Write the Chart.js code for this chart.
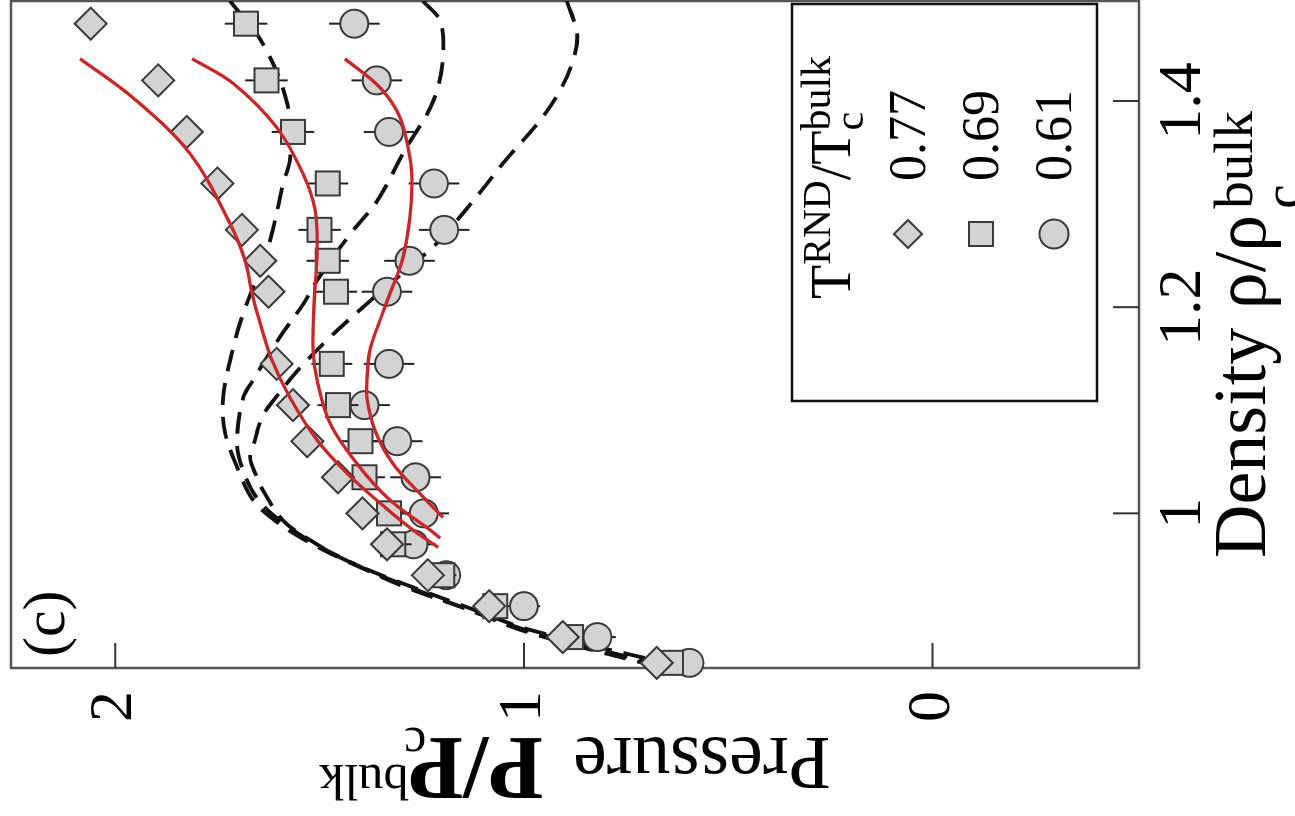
<!DOCTYPE html>
<html>
<head>
<meta charset="utf-8">
<script src="https://cdn.jsdelivr.net/npm/chart.js@4.4.1/dist/chart.umd.min.js"></script>
<style>
html,body{margin:0;padding:0;overflow:hidden;background:#fff;width:1295px;height:816px}
/* figure is typeset upright, then turned a quarter turn to the left */
#wrap{position:absolute;left:0;top:0;width:816px;height:1295px;transform-origin:0 0;transform:translate(0,816px) rotate(-90deg)}
</style>
</head>
<body>
<div id="wrap"><canvas id="cv" width="816" height="1295"></canvas></div>
<script>
// ── simulation points (density rows shared by all three runs) ──
const density=[1.475,1.42,1.37,1.32,1.275,1.245,1.215,1.145,1.105,1.07,1.035,1.0,0.97,0.94,0.91,0.88,0.855];
const temps=['0.77','0.69','0.61'];
const p077=[2.06,1.895,1.825,1.75,1.69,1.645,1.625,1.605,1.565,1.53,1.455,1.395,1.335,1.235,1.085,0.905,0.675];
const p069=[1.68,1.63,1.565,1.48,1.50,1.48,1.46,1.47,1.455,1.40,1.39,1.33,1.32,1.20,1.07,0.885,0.64];
const p061=[1.415,1.36,1.33,1.22,1.195,1.28,1.335,1.33,1.39,1.31,1.265,1.245,1.27,1.19,1.0,0.82,0.595];
const err077=[0.04,0.04,0.04,0.04,0.04,0.04,0.04,0.04,0.04,0.04,0.04,0.04,0.035,0.03,0.025,0.025,0.02];
const err069=[0.052,0.052,0.052,0.05,0.052,0.052,0.052,0.05,0.05,0.05,0.05,0.05,0.045,0.035,0.03,0.03,0.025];
const err061=[0.062,0.062,0.062,0.062,0.062,0.062,0.062,0.062,0.062,0.062,0.062,0.062,0.055,0.03,0.04,0.045,0.03];

// ── fitted isotherms (red) ──
const fitD077=[1.441,1.403,1.349,1.281,1.245,1.213,1.184,1.148,1.112,1.071,1.039,1.010,0.986,0.967];
const fitP077=[2.086,1.956,1.817,1.719,1.682,1.665,1.645,1.616,1.572,1.506,1.433,1.352,1.279,1.210];
const fitD069=[1.441,1.417,1.374,1.329,1.294,1.255,1.206,1.158,1.129,1.087,1.048,1.013,0.984,0.976];
const fitP069=[1.812,1.711,1.604,1.540,1.511,1.506,1.513,1.516,1.506,1.474,1.408,1.328,1.230,1.205];
const fitD061=[1.441,1.413,1.384,1.345,1.320,1.287,1.248,1.213,1.180,1.158,1.129,1.112,1.080,1.048,1.016,0.996];
const fitP061=[1.438,1.352,1.303,1.279,1.274,1.279,1.296,1.328,1.359,1.377,1.384,1.384,1.364,1.320,1.247,1.198];

// ── bulk equation of state (dashed) ──
const eosD077=[1.497,1.455,1.397,1.345,1.320,1.265,1.229,1.194,1.161,1.112,1.078,1.045,1.013,0.993,0.974,0.952,0.932,0.906,0.884,0.85];
const eosP077=[1.719,1.638,1.579,1.572,1.589,1.621,1.653,1.687,1.711,1.736,1.731,1.702,1.663,1.609,1.535,1.425,1.303,1.132,0.985,0.660];
const eosD069=[1.497,1.4775,1.4416,1.41,1.387,1.368,1.349,1.303,1.271,1.226,1.203,1.171,1.129,1.112,1.071,1.045,1.013,0.988,0.969,0.950,0.930,0.906,0.885,0.85];
const eosP069=[1.247,1.205,1.198,1.213,1.237,1.267,1.296,1.359,1.425,1.506,1.540,1.597,1.663,1.687,1.702,1.690,1.650,1.580,1.505,1.410,1.300,1.130,0.980,0.635];
const eosD061=[1.497,1.465,1.439,1.41,1.381,1.342,1.316,1.284,1.262,1.231,1.200,1.171,1.141,1.109,1.093,1.071,1.054,1.035,1.022,0.993,0.974,0.955,0.933,0.908,0.887,0.85];
const eosP061=[0.895,0.870,0.880,0.912,0.961,1.046,1.098,1.164,1.213,1.303,1.394,1.474,1.548,1.614,1.641,1.658,1.670,1.653,1.638,1.589,1.523,1.438,1.303,1.132,0.985,0.600];

const densTicks=[1,1.2,1.4];
const presTicks=[0,1,2];

const SERIF="'Liberation Serif','DejaVu Serif',serif";
const fnt=(s,b)=>(b?'bold ':'')+s+'px '+SERIF;
const pts=(xs,ys)=>xs.map((x,i)=>({x,y:ys[i]}));
const GREY='#d3d3d3', EDGE='#3a3a3a', RED='#c8282a';
const marks=['rectRot','rect','circle'], markR=[16,17,14];

const curve=(xs,ys,dashed)=>({data:pts(xs,ys),showLine:true,pointRadius:0,tension:0.35,
  borderColor:dashed?'#111':RED,borderWidth:dashed?3.8:3.3,borderDash:dashed?[22,12]:[],fill:false});
const sim=(ys,errs,k)=>({data:pts(density,ys),errors:errs,showLine:false,pointStyle:marks[k],clip:false,
  pointRadius:markR[k],backgroundColor:GREY,borderColor:EDGE,borderWidth:2});

// index 0 is painted last: red fits on top, markers, then dashed underneath
const datasets=[
  curve(fitD077,fitP077),curve(fitD069,fitP069),curve(fitD061,fitP061),
  sim(p077,err077,0),sim(p069,err069,1),sim(p061,err061,2),
  curve(eosD077,eosP077,true),curve(eosD069,eosP069,true),curve(eosD061,eosP061,true)
];

// runs of text with stacked super/subscripts, drawn along +x from the baseline
function rich(ctx,parts,x,y,draw){
  let cx=x;
  for(const p of parts){
    let w=0;
    for(const s of (p.stack||[p])){
      ctx.font=fnt(s.size,s.bold);
      if(draw)ctx.fillText(s.t,cx+(s.dx||0),y-(s.rise||0));
      w=Math.max(w,(s.dx||0)+ctx.measureText(s.t).width);
    }
    cx+=w+(p.gap||0);
  }
  return cx-x;
}

const errorBars={id:'errorBars',
  beforeDatasetDraw(chart,args){
    const ds=chart.data.datasets[args.index];
    if(!ds.errors)return;
    const {ctx,scales:{x,y}}=chart;
    ctx.save();ctx.strokeStyle='#222';ctx.lineWidth=2;
    ds.data.forEach((p,i)=>{
      const px=x.getPixelForValue(p.x);
      ctx.beginPath();
      ctx.moveTo(px,y.getPixelForValue(p.y-ds.errors[i]));
      ctx.lineTo(px,y.getPixelForValue(p.y+ds.errors[i]));
      ctx.stroke();
    });
    ctx.restore();
  }};

const decor={id:'decor',
  beforeDatasetsDraw(chart){
    // frame under the marks so the edge row of symbols sits over it
    const {ctx,chartArea:a}=chart;
    ctx.save();ctx.strokeStyle='#555';ctx.lineWidth=2.5;
    ctx.strokeRect(a.left,a.top,a.right-a.left,a.bottom-a.top);
    ctx.restore();
  },
  afterDraw(chart){
    const {ctx,chartArea:a,scales:{x,y}}=chart;
    ctx.save();
    // inward ticks
    ctx.strokeStyle='#333';ctx.lineWidth=2;
    ctx.beginPath();
    x.ticks.forEach(t=>{const px=x.getPixelForValue(t.value);ctx.moveTo(px,a.bottom);ctx.lineTo(px,a.bottom-26);});
    y.ticks.forEach(t=>{const py=y.getPixelForValue(t.value);ctx.moveTo(a.left,py);ctx.lineTo(a.left+25,py);});
    ctx.stroke();

    ctx.fillStyle='#000';ctx.textBaseline='alphabetic';ctx.textAlign='left';
    // panel tag
    ctx.font=fnt(60);ctx.fillText('(c)',a.left+11,a.top+53);

    // density title under the axis
    const dT=[{t:'Density ρ/ρ',size:74,gap:6},{stack:[{t:'bulk',size:55,rise:13},{t:'c',size:55,rise:-36}]}];
    const dw=rich(ctx,dT,0,0,false);
    rich(ctx,dT,(a.left+a.right)/2-dw/2,1265,true);

    // pressure title, reading upward
    const pT=[{t:'Pressure',size:76,gap:30},{t:'P/P',size:90,bold:true},
      {stack:[{t:'bulk',size:50,rise:27},{t:'c',size:50,rise:-10,dx:-18}]}];
    const pw=rich(ctx,pT,0,0,false);
    ctx.save();
    ctx.translate(78,(a.top+a.bottom)/2+pw/2);
    ctx.rotate(-Math.PI/2);
    rich(ctx,pT,0,0,true);
    ctx.restore();

    // legend box
    const L=a.right-400, T=a.bottom-347;
    ctx.strokeStyle='#111';ctx.lineWidth=2.5;
    ctx.strokeRect(L,T,397,305);
    const lT=[{t:'T',size:56},{t:'RND',size:40,rise:20},{t:'/T',size:56},
      {stack:[{t:'bulk',size:42,rise:20},{t:'c',size:42,rise:-13}]}];
    rich(ctx,lT,L+102,T+58,true);
    temps.forEach((lab,i)=>{
      const mx=L+167, my=T+116+73*i, r=[14,12,14.5][i];
      ctx.fillStyle=GREY;ctx.strokeStyle=EDGE;ctx.lineWidth=2;
      ctx.beginPath();
      if(i===2)ctx.arc(mx,my,r,0,Math.PI*2);
      else if(i===1)ctx.rect(mx-r,my-r,2*r,2*r);
      else{ctx.moveTo(mx,my-r);ctx.lineTo(mx+r,my);ctx.lineTo(mx,my+r);ctx.lineTo(mx-r,my);ctx.closePath();}
      ctx.fill();ctx.stroke();
      ctx.fillStyle='#000';ctx.font=fnt(52);
      ctx.fillText(lab,L+220,T+133+73*i);
    });
    ctx.restore();
  }};

new Chart(document.getElementById('cv'),{
  type:'scatter',
  data:{datasets},
  options:{
    responsive:false,animation:false,devicePixelRatio:1,
    layout:{autoPadding:false,padding:{top:11,right:1,left:0,bottom:0}},
    plugins:{legend:{display:false},tooltip:{enabled:false}},
    scales:{
      x:{type:'linear',position:'bottom',min:0.85,max:1.497,
        afterBuildTicks:s=>{s.ticks=densTicks.map(v=>({value:v}));},
        afterFit:s=>{s.height=156;s.paddingLeft=0;s.paddingRight=0;},
        grid:{display:false},border:{display:false},
        ticks:{autoSkip:false,maxRotation:0,minRotation:0,padding:0,color:'#000',
          font:{family:SERIF,size:62},callback:v=>v===1?'1':v.toFixed(1)}},
      y:{type:'linear',min:-0.505,max:2.255,
        afterBuildTicks:s=>{s.ticks=presTicks.map(v=>({value:v}));},
        afterFit:s=>{s.width=148;s.paddingTop=0;s.paddingBottom=0;},
        grid:{display:false},border:{display:false},
        ticks:{padding:15,color:'#000',font:{family:SERIF,size:62},callback:v=>String(v)}}
    }
  },
  plugins:[errorBars,decor]
});
</script>
</body>
</html>
